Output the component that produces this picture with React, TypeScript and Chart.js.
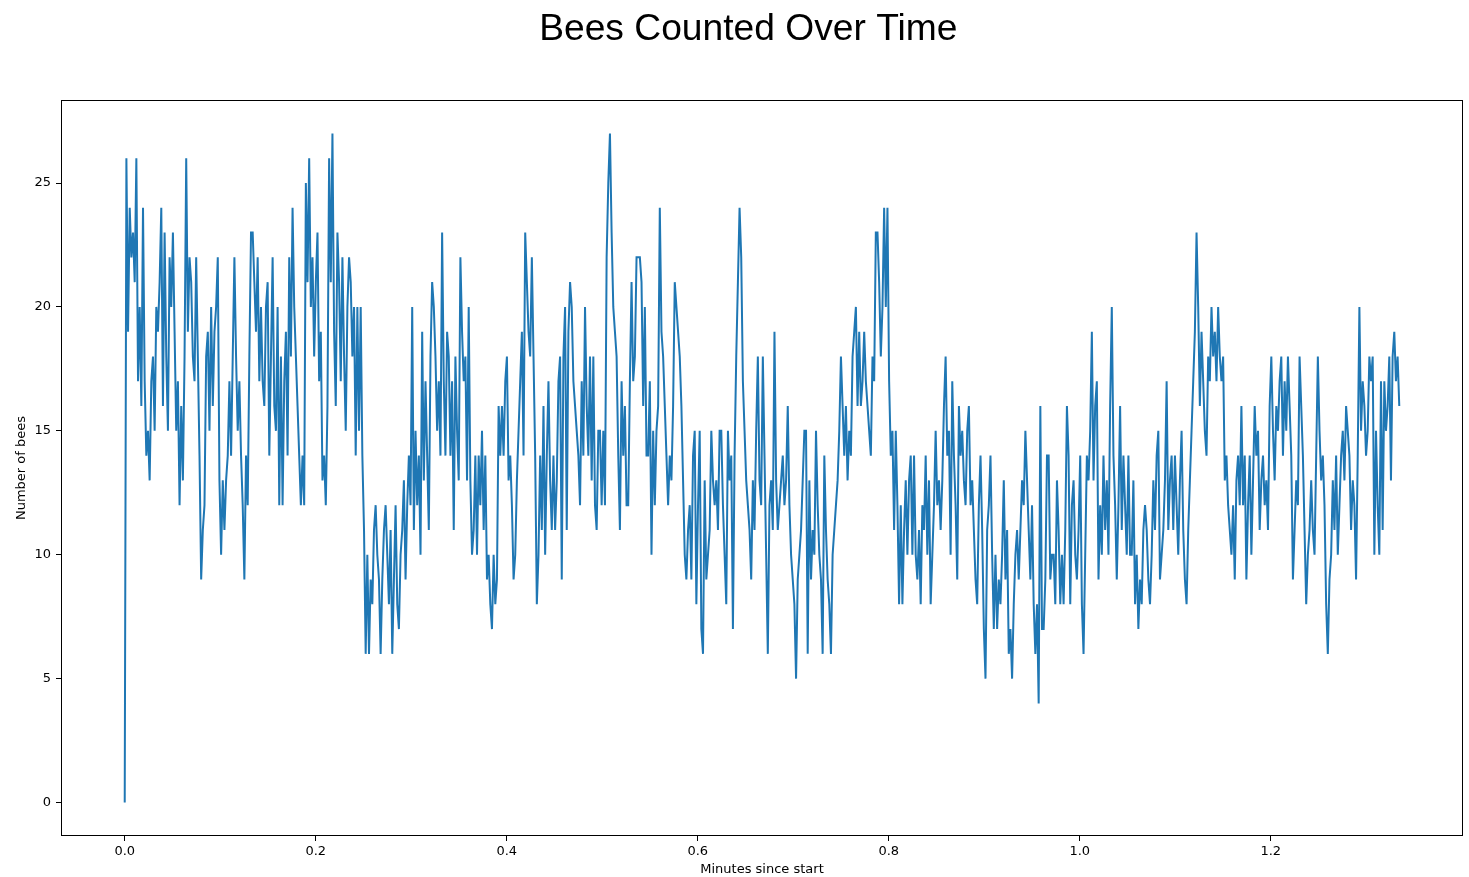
import React, { useEffect, useRef } from "react";
import { Chart, registerables } from "chart.js";

Chart.register(...registerables);

const WIDTH = 1469;
const HEIGHT = 877;

const TITLE = "Bees Counted Over Time";
const X_LABEL = "Minutes since start";
const Y_LABEL = "Number of bees";

// Seconds between two consecutive counts.
const SAMPLE_INTERVAL_S = 0.1044;

// Bee counts per sample, in recording order.
const countsPart1 = [
  0, 26, 19, 24, 22, 23, 21, 26, 17, 20, 16, 24, 17, 14, 15, 13, 17, 18, 15, 20,
  19, 21, 24, 16, 23, 18, 15, 22, 20,
];
const countsPart2 = [
  23, 19, 15, 17, 12, 16, 13, 18, 26, 19, 22, 21, 18, 17, 22, 18, 14, 9, 11, 12,
  18, 19, 15, 20, 16, 19, 20, 22, 13, 10, 13, 11, 13, 14, 17, 14, 18, 22, 18, 15,
  17, 14, 12, 9, 14, 12, 18, 23, 23, 21, 19, 22, 17, 20, 17, 16, 20, 21, 14, 18,
  22, 16, 15, 20, 12, 18,
];
const countsPart3 = [
  12, 17, 19, 14, 22, 18, 24, 20, 18, 16, 14, 12, 14, 12, 25, 21, 26, 20, 22, 18,
  21, 23, 17, 19, 13, 14, 12, 16, 26, 21, 27, 19, 16, 23, 21, 17, 22, 18, 15, 20,
  22, 21, 18, 20, 14, 20, 15, 20, 14, 11, 6, 10, 6, 9, 8, 11, 12, 10, 9, 6,
  9, 11, 12, 10, 8, 11, 6, 9, 12, 8, 7, 10, 11, 13, 9, 12, 14, 12, 20, 11,
  15, 12, 14, 10, 19, 13, 17, 14, 11, 18, 21, 20, 18, 15, 17, 14, 23,
];
const countsPart4 = [
  17, 14, 19, 18, 14, 17, 11, 18, 15, 13, 22, 19, 17, 18, 13, 20, 13, 10, 11, 14,
  10, 14, 12, 15, 11, 14, 9, 10, 8, 7, 10, 8, 9, 16, 14, 16, 14, 17, 18, 13,
  14, 12, 9, 10, 13, 15, 17, 19, 14, 23, 21, 19, 18, 22, 18, 14, 8, 10, 14, 11,
  16, 10, 14, 17, 13, 11, 14, 11, 13, 17, 18, 9, 18, 20, 11, 19, 21, 20, 17, 16,
  15, 14, 12, 17, 14, 20, 16, 14, 18, 13, 18, 12, 11, 15, 15, 12, 15, 12, 22, 25,
  27, 23, 20, 19, 18, 14, 11, 17, 14, 16, 12, 12, 17, 21, 17, 18, 22, 22, 22, 21,
  16, 20, 14, 14, 17, 10, 15, 12, 15, 16, 24, 19,
];
const countsPart5 = [
  18, 16, 14, 12, 14, 13, 16, 21, 20, 19, 18, 16, 13, 10, 9, 11, 12, 9, 14, 15,
  8, 12, 15, 7, 6, 13, 9, 10, 11, 15, 13, 12, 13, 11, 15, 15, 12, 10, 8, 15,
  13, 14, 7, 14, 18, 21, 24, 22, 17, 15, 13, 12, 11, 9, 13, 11, 15, 18, 13, 12,
  18, 14, 10, 6, 12, 13, 11, 19, 13, 11, 12, 13, 14, 12, 13, 16, 12, 10, 9, 8,
  5, 9, 10, 11, 13, 15, 15, 6, 13, 9, 11, 10, 15, 12, 10, 9, 6, 14, 11, 9,
  8, 6, 10, 11, 12, 13, 15, 18, 16, 14, 16, 13, 15, 14, 18, 19, 20, 16, 19, 16,
  17, 19, 17, 16, 15, 14, 18, 17, 23, 23, 21, 18,
];
const countsPart6 = [
  20, 24, 20, 24, 17, 14, 15, 11, 15, 12, 8, 12, 8, 11, 13, 10, 13, 14, 10, 14,
  10, 9, 11, 8, 12, 11, 14, 10, 13, 8, 10, 12, 15, 12, 13, 11, 13, 16, 18, 14,
  15, 10, 17, 14, 12, 9, 16, 14, 15, 13, 12, 15, 16, 12, 13, 11, 9, 8, 12, 14,
  11, 7, 5, 11, 12, 14, 10, 7, 10, 7, 9, 8, 10, 13, 9, 11, 6, 7, 5, 8,
  10, 11, 9, 11, 13, 12, 15, 13, 11, 9, 12, 8, 6, 8, 4, 16, 7, 7, 9, 14,
  14, 9, 10, 10, 8, 13, 11, 8, 10, 8, 11, 16, 14, 8, 12, 13, 10, 9, 11, 14,
  8, 6, 10, 14, 13, 15, 19, 13, 16, 17, 9,
];
const countsPart7 = [
  12, 10, 14, 11, 13, 10, 16, 20, 14, 12, 9, 12, 16, 11, 14, 12, 10, 14, 10, 10,
  13, 8, 10, 7, 9, 8, 11, 12, 11, 9, 8, 10, 13, 11, 14, 15, 9, 10, 11, 13,
  17, 11, 13, 14, 11, 14, 12, 10, 13, 15, 11, 9, 8, 11, 13, 15, 17, 19, 23, 20,
  16, 19, 17, 15, 14, 18, 17, 20, 18, 19, 17, 20, 18, 17, 18, 13, 14, 12, 11, 10,
  12, 9, 13, 14, 12, 16, 12, 14, 9, 12, 14, 10, 13, 16, 14, 15, 11, 13, 14, 12,
  13, 11, 16, 18, 15, 13, 16, 15, 17, 18, 14, 17, 15, 18, 16, 14, 9, 11, 13, 12,
  18, 16, 14, 11, 8, 10, 11, 13, 11, 10, 14, 18, 15, 13, 14, 12, 8, 6, 9, 10,
  13, 11, 14, 10, 12, 14, 15, 13, 16, 15, 14, 11, 13, 12, 9, 14, 20, 15, 17, 16,
  14, 15, 18, 17, 18, 10, 15, 12, 10, 17, 11, 17, 15, 16, 18, 13, 18, 19, 17, 18,
  16,
];

const BEE_COUNTS = [
  ...countsPart1,
  ...countsPart2,
  ...countsPart3,
  ...countsPart4,
  ...countsPart5,
  ...countsPart6,
  ...countsPart7,
];

const X_TICKS = [0, 0.2, 0.4, 0.6, 0.8, 1.0, 1.2];
const Y_TICKS = [0, 5, 10, 15, 20, 25];

const LINE_COLOR = "#1f77b4";
const TEXT_COLOR = "#000000";
const AXIS_FONT = { family: "'DejaVu Sans', sans-serif", size: 13 };

// Draws the full axes frame and the figure title.
const frameAndTitle = {
  id: "frameAndTitle",
  afterDraw(chart: Chart) {
    const { ctx, chartArea } = chart;
    const { left, top, right, bottom } = chartArea;
    ctx.save();
    ctx.strokeStyle = "#000000";
    ctx.lineWidth = 1;
    ctx.strokeRect(
      Math.round(left) + 0.5,
      Math.round(top) + 0.5,
      Math.round(right - left) - 1,
      Math.round(bottom - top) - 1
    );
    ctx.fillStyle = TEXT_COLOR;
    ctx.font = "37.2px 'Liberation Sans', Arial, sans-serif";
    ctx.textAlign = "center";
    ctx.textBaseline = "alphabetic";
    ctx.fillText(TITLE, 748.3, 39.5);
    ctx.restore();
  },
};

export default function App() {
  const canvasRef = useRef<HTMLCanvasElement>(null);

  useEffect(() => {
    const canvas = canvasRef.current;
    if (!canvas) return;

    const points = BEE_COUNTS.map((count, i) => ({
      x: (i * SAMPLE_INTERVAL_S) / 60,
      y: count,
    }));
    const span = points[points.length - 1].x;
    const maxCount = Math.max(...BEE_COUNTS);
    const minCount = Math.min(...BEE_COUNTS);
    const yMargin = (maxCount - minCount) * 0.05;

    const chart = new Chart(canvas, {
      type: "line",
      data: {
        datasets: [
          {
            data: points,
            borderColor: LINE_COLOR,
            borderWidth: 2,
            pointRadius: 0,
            fill: false,
            tension: 0,
          },
        ],
      },
      options: {
        animation: false,
        responsive: false,
        devicePixelRatio: 1,
        layout: { padding: { top: 100, right: 6, bottom: 0, left: 0 } },
        plugins: {
          legend: { display: false },
          tooltip: { enabled: false },
          title: { display: false },
        },
        scales: {
          x: {
            type: "linear",
            min: -span * 0.05,
            max: span * 1.05,
            afterFit: (scale: any) => {
              scale.height = 41;
            },
            afterBuildTicks: (scale: any) => {
              scale.ticks = X_TICKS.map((v) => ({ value: v }));
            },
            ticks: {
              callback: (v: any) => Number(v).toFixed(1),
              font: AXIS_FONT,
              color: TEXT_COLOR,
              padding: 3,
              maxRotation: 0,
              autoSkip: false,
            },
            grid: {
              drawOnChartArea: false,
              drawTicks: true,
              tickLength: 5,
              color: "#000000",
              lineWidth: 1,
            },
            border: { display: false },
            title: {
              display: true,
              text: X_LABEL,
              font: AXIS_FONT,
              color: TEXT_COLOR,
              padding: { top: 0, bottom: 0 },
            },
          },
          y: {
            type: "linear",
            min: minCount - yMargin,
            max: maxCount + yMargin,
            afterFit: (scale: any) => {
              scale.width = 61;
            },
            afterBuildTicks: (scale: any) => {
              scale.ticks = Y_TICKS.map((v) => ({ value: v }));
            },
            ticks: {
              callback: (v: any) => String(v),
              font: AXIS_FONT,
              color: TEXT_COLOR,
              padding: 5,
              autoSkip: false,
            },
            grid: {
              drawOnChartArea: false,
              drawTicks: true,
              tickLength: 5,
              color: "#000000",
              lineWidth: 1,
            },
            border: { display: false },
            title: {
              display: true,
              text: Y_LABEL,
              font: AXIS_FONT,
              color: TEXT_COLOR,
              padding: { top: 14, bottom: 0 },
            },
          },
        },
      },
      plugins: [frameAndTitle],
    });

    return () => chart.destroy();
  }, []);

  return (
    <div
      style={{
        position: "fixed",
        left: 0,
        top: 0,
        width: WIDTH,
        height: HEIGHT,
        background: "#ffffff",
      }}
    >
      <canvas
        ref={canvasRef}
        width={WIDTH}
        height={HEIGHT}
        style={{ display: "block", width: WIDTH, height: HEIGHT }}
      />
    </div>
  );
}
